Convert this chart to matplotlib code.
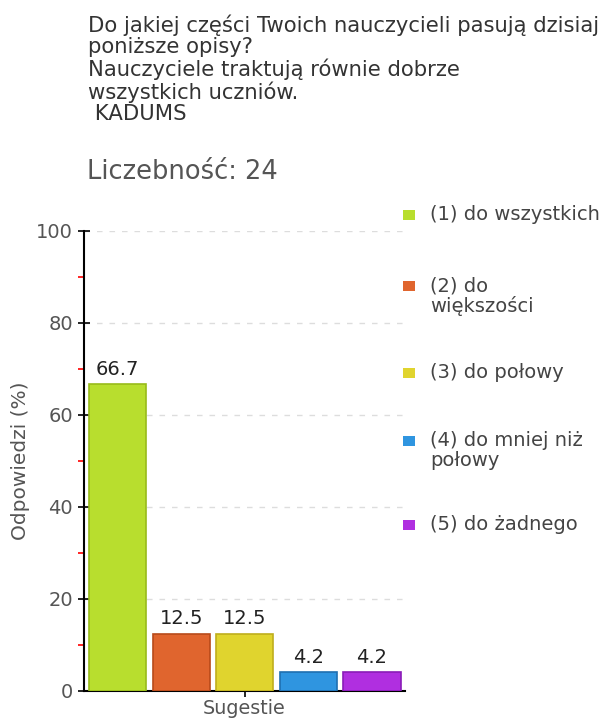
import numpy as np
import matplotlib
matplotlib.use("Agg")
import matplotlib.pyplot as plt
from matplotlib.patches import Rectangle

# data
values = [66.7, 12.5, 12.5, 4.2, 4.2]
labels = ["(1) do wszystkich", "(2) do\nwiększości", "(3) do połowy",
          "(4) do mniej niż\npołowy", "(5) do żadnego"]
colors = ["#b8de2e", "#e0652e", "#e0d42e", "#2f95e0", "#b02fe0"]
edges = ["#98bb1a", "#b84a1a", "#bfae1c", "#1f6fb0", "#8a1cb8"]
title = ("Do jakiej części Twoich nauczycieli pasują dzisiaj\n"
         "poniższe opisy?\n"
         "Nauczyciele traktują równie dobrze\n"
         "wszystkich uczniów.\n"
         " KADUMS")
count_text = "Liczebność: 24"

W, H = 609, 718
fig = plt.figure(figsize=(W / 100, H / 100), dpi=100)

def fx(px):
    return px / W

def fy(py):
    return 1 - py / H

ax = fig.add_axes([fx(84), fy(691), fx(405) - fx(84), fy(231) - fy(691)])

x = np.arange(len(values))
bars = ax.bar(x, values, width=0.9, color=colors, edgecolor=edges, linewidth=1.2, zorder=3)
for xi, v in zip(x, values):
    ax.text(xi, v + 1.1, f"{v:.1f}", ha="center", va="bottom", fontsize=14, color="#222222")

ax.set_xlim(-0.53, 4.52)
ax.set_ylim(0, 100)
ax.set_yticks([0, 20, 40, 60, 80, 100])
ax.set_yticks([10, 30, 50, 70, 90], minor=True)
ax.tick_params(axis="y", which="major", direction="inout", length=8, width=1.2,
               colors="black", labelcolor="#555555", labelsize=14, pad=4)
ax.tick_params(axis="y", which="minor", direction="out", length=4, width=1.2, colors="red")
ax.set_xticks([2])
ax.set_xticklabels([""])
ax.tick_params(axis="x", direction="out", length=4, width=1.2, colors="black")
ax.set_xlabel("Sugestie", fontsize=13.8, color="#555555", labelpad=-2)
ax.set_ylabel("Odpowiedzi (%)", fontsize=14.5, color="#555555", labelpad=4)

ax.yaxis.grid(True, which="major", linestyle=(0, (4, 5)), color="#dddddd", linewidth=1, zorder=0)
for s in ["top", "right"]:
    ax.spines[s].set_visible(False)
ax.spines["left"].set_linewidth(1.5)
ax.spines["bottom"].set_linewidth(1.5)

fig.text(fx(88), fy(15), title, ha="left", va="top", fontsize=15.2, color="#333333",
         linespacing=1.06)
fig.text(fx(87), fy(172), count_text, ha="left", va="center", fontsize=18.5, color="#555555")

# legend drawn by hand
leg_y = [215, 286, 373, 441, 525]
for yy, lab, c in zip(leg_y, labels, colors):
    fig.patches.append(Rectangle((fx(403), fy(yy + 5)), fx(12), fy(yy - 5) - fy(yy + 5),
                                 transform=fig.transFigure, facecolor=c, edgecolor="none"))
    fig.text(fx(430), fy(yy - 10), lab, ha="left", va="top",
             fontsize=14, color="#444444", linespacing=1.05)

fig.savefig("out.png", dpi=100)
